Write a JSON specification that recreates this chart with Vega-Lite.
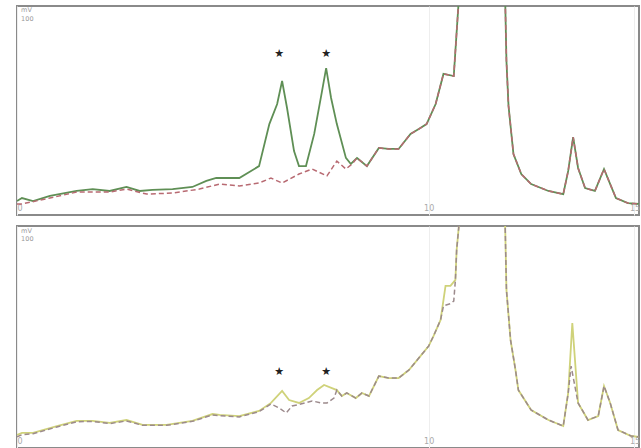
{
  "$schema": "https://vega.github.io/schema/vega-lite/v6.json",
  "background": "white",
  "padding": {"left": 16, "top": 5, "right": 2, "bottom": 0},
  "spacing": 9,
  "config": {
    "view": {"stroke": "#8a8a8a", "strokeWidth": 2},
    "font": "DejaVu Sans"
  },
  "datasets": {
    "curves": [
      {"p":1,"s":"A","t":0,"v":6.7},{"p":1,"s":"A","t":0.12,"v":8.1},{"p":1,"s":"A","t":0.39,"v":6.7},{"p":1,"s":"A","t":0.8,"v":9.1},{"p":1,"s":"A","t":1.45,"v":11.5},{"p":1,"s":"A","t":1.84,"v":12.4},{"p":1,"s":"A","t":2.25,"v":11.5},{"p":1,"s":"A","t":2.66,"v":13.4},{"p":1,"s":"A","t":2.98,"v":11.5},{"p":1,"s":"A","t":3.29,"v":12.0},{"p":1,"s":"A","t":3.78,"v":12.4},{"p":1,"s":"A","t":4.26,"v":13.4},{"p":1,"s":"A","t":4.6,"v":16.3},{"p":1,"s":"A","t":4.84,"v":17.7},{"p":1,"s":"A","t":5.4,"v":17.7},{"p":1,"s":"A","t":5.88,"v":23.4},{"p":1,"s":"A","t":6.13,"v":43.5},{"p":1,"s":"A","t":6.32,"v":53.1},{"p":1,"s":"A","t":6.44,"v":64.1},{"p":1,"s":"A","t":6.56,"v":51.2},{"p":1,"s":"A","t":6.73,"v":30.6},{"p":1,"s":"A","t":6.85,"v":23.4},{"p":1,"s":"A","t":7.02,"v":23.4},{"p":1,"s":"A","t":7.22,"v":38.8},{"p":1,"s":"A","t":7.41,"v":59.3},{"p":1,"s":"A","t":7.51,"v":70.3},{"p":1,"s":"A","t":7.63,"v":56.0},{"p":1,"s":"A","t":7.77,"v":43.5},{"p":1,"s":"A","t":7.99,"v":27.3},{"p":1,"s":"A","t":8.11,"v":24.4},{"p":1,"s":"A","t":8.26,"v":27.3},{"p":1,"s":"A","t":8.5,"v":23.4},{"p":1,"s":"A","t":8.79,"v":32.1},{"p":1,"s":"A","t":9.03,"v":31.6},{"p":1,"s":"A","t":9.27,"v":31.6},{"p":1,"s":"A","t":9.56,"v":38.8},{"p":1,"s":"A","t":9.76,"v":41.1},{"p":1,"s":"A","t":9.95,"v":43.5},{"p":1,"s":"A","t":10.17,"v":53.1},{"p":1,"s":"A","t":10.36,"v":67.5},{"p":1,"s":"A","t":10.61,"v":66.5},{"p":1,"s":"A","t":10.65,"v":78.5},{"p":1,"s":"A","t":10.73,"v":102.4},{"p":1,"s":"A","t":10.97,"v":200},{"p":1,"s":"A","t":11.28,"v":300},{"p":1,"s":"A","t":11.62,"v":200},{"p":1,"s":"A","t":11.86,"v":102.4},{"p":1,"s":"A","t":11.89,"v":73.7},{"p":1,"s":"A","t":11.94,"v":52.2},{"p":1,"s":"A","t":12.06,"v":29.2},{"p":1,"s":"A","t":12.25,"v":19.6},{"p":1,"s":"A","t":12.49,"v":14.8},{"p":1,"s":"A","t":12.91,"v":11.5},{"p":1,"s":"A","t":13.27,"v":10.0},{"p":1,"s":"A","t":13.39,"v":21.1},{"p":1,"s":"A","t":13.51,"v":37.3},{"p":1,"s":"A","t":13.63,"v":22.5},{"p":1,"s":"A","t":13.8,"v":12.9},{"p":1,"s":"A","t":14.04,"v":11.5},{"p":1,"s":"A","t":14.26,"v":22.0},{"p":1,"s":"A","t":14.41,"v":14.8},{"p":1,"s":"A","t":14.55,"v":8.1},{"p":1,"s":"A","t":14.84,"v":5.7},{"p":1,"s":"A","t":15.11,"v":5.3},

      {"p":1,"s":"B","t":0,"v":5.3},{"p":1,"s":"B","t":0.12,"v":5.3},{"p":1,"s":"B","t":0.8,"v":8.1},{"p":1,"s":"B","t":1.45,"v":11.0},{"p":1,"s":"B","t":2.25,"v":11.0},{"p":1,"s":"B","t":2.66,"v":12.4},{"p":1,"s":"B","t":3.15,"v":10.0},{"p":1,"s":"B","t":3.78,"v":10.5},{"p":1,"s":"B","t":4.43,"v":12.4},{"p":1,"s":"B","t":4.92,"v":14.8},{"p":1,"s":"B","t":5.4,"v":13.9},{"p":1,"s":"B","t":5.88,"v":15.3},{"p":1,"s":"B","t":6.17,"v":17.7},{"p":1,"s":"B","t":6.44,"v":15.3},{"p":1,"s":"B","t":6.85,"v":19.6},{"p":1,"s":"B","t":7.17,"v":22.0},{"p":1,"s":"B","t":7.53,"v":18.7},{"p":1,"s":"B","t":7.77,"v":25.8},{"p":1,"s":"B","t":7.99,"v":22.0},{"p":1,"s":"B","t":8.14,"v":24.4},{"p":1,"s":"B","t":8.26,"v":27.3},{"p":1,"s":"B","t":8.5,"v":23.4},{"p":1,"s":"B","t":8.79,"v":32.1},{"p":1,"s":"B","t":9.03,"v":31.6},{"p":1,"s":"B","t":9.27,"v":31.6},{"p":1,"s":"B","t":9.56,"v":38.8},{"p":1,"s":"B","t":9.76,"v":41.1},{"p":1,"s":"B","t":9.95,"v":43.5},{"p":1,"s":"B","t":10.17,"v":53.1},{"p":1,"s":"B","t":10.36,"v":67.5},{"p":1,"s":"B","t":10.61,"v":66.5},{"p":1,"s":"B","t":10.65,"v":78.5},{"p":1,"s":"B","t":10.73,"v":102.4},{"p":1,"s":"B","t":10.97,"v":200},{"p":1,"s":"B","t":11.28,"v":300},{"p":1,"s":"B","t":11.62,"v":200},{"p":1,"s":"B","t":11.86,"v":102.4},{"p":1,"s":"B","t":11.89,"v":73.7},{"p":1,"s":"B","t":11.94,"v":52.2},{"p":1,"s":"B","t":12.06,"v":29.2},{"p":1,"s":"B","t":12.25,"v":19.6},{"p":1,"s":"B","t":12.49,"v":14.8},{"p":1,"s":"B","t":12.91,"v":11.5},{"p":1,"s":"B","t":13.27,"v":10.0},{"p":1,"s":"B","t":13.39,"v":21.1},{"p":1,"s":"B","t":13.51,"v":37.3},{"p":1,"s":"B","t":13.63,"v":22.5},{"p":1,"s":"B","t":13.8,"v":12.9},{"p":1,"s":"B","t":14.04,"v":11.5},{"p":1,"s":"B","t":14.26,"v":22.0},{"p":1,"s":"B","t":14.41,"v":14.8},{"p":1,"s":"B","t":14.55,"v":8.1},{"p":1,"s":"B","t":14.84,"v":5.7},{"p":1,"s":"B","t":15.11,"v":5.3},

      {"p":2,"s":"A","t":0,"v":5.9},{"p":2,"s":"A","t":0.12,"v":6.8},{"p":2,"s":"A","t":0.39,"v":6.8},{"p":2,"s":"A","t":0.97,"v":9.9},{"p":2,"s":"A","t":1.45,"v":12.2},{"p":2,"s":"A","t":1.84,"v":12.2},{"p":2,"s":"A","t":2.25,"v":11.3},{"p":2,"s":"A","t":2.66,"v":12.6},{"p":2,"s":"A","t":3.05,"v":10.4},{"p":2,"s":"A","t":3.63,"v":10.4},{"p":2,"s":"A","t":4.26,"v":12.2},{"p":2,"s":"A","t":4.75,"v":15.3},{"p":2,"s":"A","t":4.92,"v":14.9},{"p":2,"s":"A","t":5.4,"v":14.4},{"p":2,"s":"A","t":5.88,"v":16.7},{"p":2,"s":"A","t":6.17,"v":20.3},{"p":2,"s":"A","t":6.44,"v":25.7},{"p":2,"s":"A","t":6.61,"v":21.6},{"p":2,"s":"A","t":6.85,"v":20.3},{"p":2,"s":"A","t":7.09,"v":22.5},{"p":2,"s":"A","t":7.29,"v":26.1},{"p":2,"s":"A","t":7.46,"v":28.4},{"p":2,"s":"A","t":7.65,"v":27.0},{"p":2,"s":"A","t":7.77,"v":26.1},{"p":2,"s":"A","t":7.89,"v":23.4},{"p":2,"s":"A","t":8.01,"v":24.8},{"p":2,"s":"A","t":8.23,"v":22.5},{"p":2,"s":"A","t":8.38,"v":24.8},{"p":2,"s":"A","t":8.55,"v":23.4},{"p":2,"s":"A","t":8.79,"v":32.4},{"p":2,"s":"A","t":9.03,"v":31.5},{"p":2,"s":"A","t":9.27,"v":31.5},{"p":2,"s":"A","t":9.52,"v":35.1},{"p":2,"s":"A","t":9.76,"v":40.5},{"p":2,"s":"A","t":10.0,"v":45.9},{"p":2,"s":"A","t":10.12,"v":50.5},{"p":2,"s":"A","t":10.29,"v":57.7},{"p":2,"s":"A","t":10.41,"v":73.0},{"p":2,"s":"A","t":10.53,"v":73.0},{"p":2,"s":"A","t":10.65,"v":75.7},{"p":2,"s":"A","t":10.68,"v":89.2},{"p":2,"s":"A","t":10.73,"v":99.1},{"p":2,"s":"A","t":10.97,"v":200},{"p":2,"s":"A","t":11.28,"v":300},{"p":2,"s":"A","t":11.62,"v":200},{"p":2,"s":"A","t":11.86,"v":99.1},{"p":2,"s":"A","t":11.89,"v":71.2},{"p":2,"s":"A","t":11.99,"v":48.6},{"p":2,"s":"A","t":12.11,"v":35.1},{"p":2,"s":"A","t":12.18,"v":26.1},{"p":2,"s":"A","t":12.49,"v":17.1},{"p":2,"s":"A","t":12.91,"v":12.6},{"p":2,"s":"A","t":13.27,"v":9.9},{"p":2,"s":"A","t":13.39,"v":24.8},{"p":2,"s":"A","t":13.49,"v":56.3},{"p":2,"s":"A","t":13.63,"v":20.3},{"p":2,"s":"A","t":13.87,"v":12.6},{"p":2,"s":"A","t":14.12,"v":14.4},{"p":2,"s":"A","t":14.26,"v":27.9},{"p":2,"s":"A","t":14.41,"v":20.3},{"p":2,"s":"A","t":14.6,"v":8.1},{"p":2,"s":"A","t":14.92,"v":5.4},{"p":2,"s":"A","t":15.11,"v":5.0},

      {"p":2,"s":"B","t":0,"v":5.0},{"p":2,"s":"B","t":0.12,"v":6.0},{"p":2,"s":"B","t":0.39,"v":6.4},{"p":2,"s":"B","t":0.97,"v":9.5},{"p":2,"s":"B","t":1.45,"v":11.8},{"p":2,"s":"B","t":1.84,"v":12.0},{"p":2,"s":"B","t":2.25,"v":11.0},{"p":2,"s":"B","t":2.66,"v":12.2},{"p":2,"s":"B","t":3.05,"v":10.2},{"p":2,"s":"B","t":3.63,"v":10.2},{"p":2,"s":"B","t":4.26,"v":12.0},{"p":2,"s":"B","t":4.75,"v":14.9},{"p":2,"s":"B","t":4.92,"v":14.6},{"p":2,"s":"B","t":5.4,"v":14.0},{"p":2,"s":"B","t":5.88,"v":16.4},{"p":2,"s":"B","t":6.17,"v":19.8},{"p":2,"s":"B","t":6.37,"v":18.0},{"p":2,"s":"B","t":6.54,"v":15.8},{"p":2,"s":"B","t":6.68,"v":18.9},{"p":2,"s":"B","t":6.85,"v":19.6},{"p":2,"s":"B","t":7.17,"v":21.2},{"p":2,"s":"B","t":7.39,"v":20.3},{"p":2,"s":"B","t":7.53,"v":20.3},{"p":2,"s":"B","t":7.7,"v":22.5},{"p":2,"s":"B","t":7.77,"v":26.1},{"p":2,"s":"B","t":7.89,"v":23.4},{"p":2,"s":"B","t":8.01,"v":24.8},{"p":2,"s":"B","t":8.23,"v":22.5},{"p":2,"s":"B","t":8.38,"v":24.8},{"p":2,"s":"B","t":8.55,"v":23.4},{"p":2,"s":"B","t":8.79,"v":32.4},{"p":2,"s":"B","t":9.03,"v":31.5},{"p":2,"s":"B","t":9.27,"v":31.5},{"p":2,"s":"B","t":9.52,"v":35.1},{"p":2,"s":"B","t":9.76,"v":40.5},{"p":2,"s":"B","t":10.0,"v":45.9},{"p":2,"s":"B","t":10.12,"v":50.5},{"p":2,"s":"B","t":10.29,"v":57.7},{"p":2,"s":"B","t":10.36,"v":64.0},{"p":2,"s":"B","t":10.53,"v":65.0},{"p":2,"s":"B","t":10.61,"v":66.2},{"p":2,"s":"B","t":10.65,"v":75.7},{"p":2,"s":"B","t":10.68,"v":89.2},{"p":2,"s":"B","t":10.73,"v":99.1},{"p":2,"s":"B","t":10.97,"v":200},{"p":2,"s":"B","t":11.28,"v":300},{"p":2,"s":"B","t":11.62,"v":200},{"p":2,"s":"B","t":11.86,"v":99.1},{"p":2,"s":"B","t":11.89,"v":71.2},{"p":2,"s":"B","t":11.99,"v":48.6},{"p":2,"s":"B","t":12.11,"v":35.1},{"p":2,"s":"B","t":12.18,"v":26.1},{"p":2,"s":"B","t":12.49,"v":17.1},{"p":2,"s":"B","t":12.91,"v":12.6},{"p":2,"s":"B","t":13.27,"v":9.9},{"p":2,"s":"B","t":13.39,"v":24.8},{"p":2,"s":"B","t":13.46,"v":36.9},{"p":2,"s":"B","t":13.63,"v":20.3},{"p":2,"s":"B","t":13.87,"v":12.6},{"p":2,"s":"B","t":14.12,"v":14.4},{"p":2,"s":"B","t":14.26,"v":27.9},{"p":2,"s":"B","t":14.41,"v":20.3},{"p":2,"s":"B","t":14.6,"v":8.1},{"p":2,"s":"B","t":14.92,"v":5.4},{"p":2,"s":"B","t":15.11,"v":5.0}
    ],
    "stars": [
      {"p":1,"t":6.37,"v":77.0,"label":"★"},{"p":1,"t":7.51,"v":77.0,"label":"★"},
      {"p":2,"t":6.37,"v":34.2,"label":"★"},{"p":2,"t":7.51,"v":34.2,"label":"★"}
    ],
    "units": [
      {"p":1,"t":0.1,"v":97.9,"label":"mV"},{"p":1,"t":0.1,"v":94.0,"label":"100"},
      {"p":2,"t":0.1,"v":97.9,"label":"mV"},{"p":2,"t":0.1,"v":94.2,"label":"100"}
    ]
  },
  "vconcat": [
    {
      "width": 622,
      "height": 209,
      "encoding": {
        "x": {"field": "t", "type": "quantitative", "scale": {"domain": [0, 15.11], "nice": false, "zero": false},
              "axis": {"values": [0, 10, 15], "title": null, "domain": false, "ticks": false, "labelPadding": -11, "labelFontSize": 8, "labelColor": "#aaaaaa", "labelFlush": true, "labelFlushOffset": 0, "grid": true, "gridColor": "#eeeeee"}},
        "y": {"field": "v", "type": "quantitative", "scale": {"domain": [0, 100], "nice": false}, "axis": null}
      },
      "layer": [
        {"data": {"name": "curves"}, "transform": [{"filter": "datum.p == 1 && datum.s == 'A'"}],
         "mark": {"type": "line", "color": "#5f8f55", "strokeWidth": 1.8, "clip": true}},
        {"data": {"name": "curves"}, "transform": [{"filter": "datum.p == 1 && datum.s == 'B'"}],
         "mark": {"type": "line", "color": "#b86a72", "strokeWidth": 1.5, "strokeDash": [5, 3], "clip": true}},
        {"data": {"name": "stars"}, "transform": [{"filter": "datum.p == 1"}],
         "mark": {"type": "text", "fontSize": 11, "color": "#222222", "baseline": "middle"},
         "encoding": {"text": {"field": "label"}}},
        {"data": {"name": "units"}, "transform": [{"filter": "datum.p == 1"}],
         "mark": {"type": "text", "fontSize": 6.5, "color": "#999999", "baseline": "middle", "align": "left"},
         "encoding": {"text": {"field": "label"}}}
      ]
    },
    {
      "width": 622,
      "height": 222,
      "encoding": {
        "x": {"field": "t", "type": "quantitative", "scale": {"domain": [0, 15.11], "nice": false, "zero": false},
              "axis": {"values": [0, 10, 15], "title": null, "domain": false, "ticks": false, "labelPadding": -11, "labelFontSize": 8, "labelColor": "#aaaaaa", "labelFlush": true, "labelFlushOffset": 0, "grid": true, "gridColor": "#eeeeee"}},
        "y": {"field": "v", "type": "quantitative", "scale": {"domain": [0, 100], "nice": false}, "axis": null}
      },
      "layer": [
        {"data": {"name": "curves"}, "transform": [{"filter": "datum.p == 2 && datum.s == 'A'"}],
         "mark": {"type": "line", "color": "#cfd27a", "strokeWidth": 1.8, "clip": true}},
        {"data": {"name": "curves"}, "transform": [{"filter": "datum.p == 2 && datum.s == 'B'"}],
         "mark": {"type": "line", "color": "#9c8a8c", "strokeWidth": 1.5, "strokeDash": [5, 3], "clip": true}},
        {"data": {"name": "stars"}, "transform": [{"filter": "datum.p == 2"}],
         "mark": {"type": "text", "fontSize": 11, "color": "#222222", "baseline": "middle"},
         "encoding": {"text": {"field": "label"}}},
        {"data": {"name": "units"}, "transform": [{"filter": "datum.p == 2"}],
         "mark": {"type": "text", "fontSize": 6.5, "color": "#999999", "baseline": "middle", "align": "left"},
         "encoding": {"text": {"field": "label"}}}
      ]
    }
  ]
}
